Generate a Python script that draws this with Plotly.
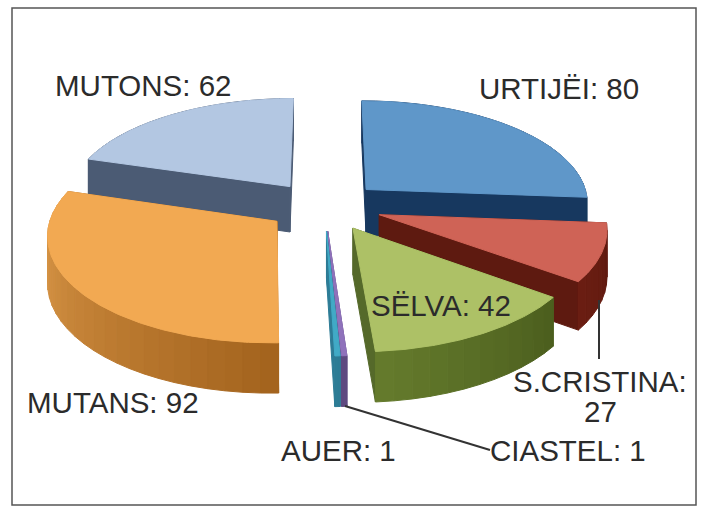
import math
import plotly.graph_objects as go

names = ["URTIJËI", "S.CRISTINA", "SËLVA", "CIASTEL", "AUER", "MUTANS", "MUTONS"]
values = [80, 27, 42, 1, 1, 92, 62]
top_colors = ["#5f97c9", "#cf6356", "#adc166", "#8f72bb", "#41aac6", "#f2a952", "#b3c7e2"]
cut_colors = ["#17385f", "#5e1a10", "#55692a", "#5e4a80", "#2d7c96", "#a8671f", "#4b5b74"]
rim_from = ["#17385f", "#5e1a10", "#4c5f1e", "#5e4a80", "#2d7c96", "#a4641e", "#4b5b74"]
rim_to = ["#17385f", "#6a1d12", "#647a2c", "#5e4a80", "#2d7c96", "#e4a150", "#4b5b74"]
draw_order = [6, 0, 5, 1, 2, 3, 4]

CX, CY, RX, RY, K, EXPL_X, EXPL_Y, RIM_X, H = 324, 206, 229, 103, 0.12, 0.255, 0.24, 0.975, 46


def hex2rgb(c):
    return [int(c[i:i + 2], 16) for i in (1, 3, 5)]


def mix(a, b, t):
    ra, rb = hex2rgb(a), hex2rgb(b)
    return "rgb(%d,%d,%d)" % tuple(round(x + (y - x) * t) for x, y in zip(ra, rb))


def project(X, Y, down=False):
    s = 1 / (1 - K * Y)
    sy = CY + Y * RY * s
    if down:
        sy += H * s ** 0.6
    return CX + X * RX * s ** 0.95, sy


fig = go.Figure()


def poly(pts, color):
    xs = [p[0] for p in pts] + [pts[0][0]]
    ys = [p[1] for p in pts] + [pts[0][1]]
    fig.add_trace(go.Scatter(x=xs, y=ys, mode="lines", fill="toself", fillcolor=color,
                             line=dict(color=color, width=1), hoverinfo="skip", showlegend=False))


total = sum(values)
starts, a = [], 0.0
for v in values:
    starts.append(a)
    a += v / total * 2 * math.pi

for i in draw_order:
    a0 = starts[i]
    a1 = a0 + values[i] / total * 2 * math.pi
    mid = (a0 + a1) / 2
    ox, oy = EXPL_X * math.sin(mid), -EXPL_Y * math.cos(mid)
    n = max(2, int(values[i] * 0.3))
    sub = 6
    rim = [(ox + RIM_X * math.sin(a0 + (a1 - a0) * j / (n * sub)), oy - math.cos(a0 + (a1 - a0) * j / (n * sub)))
           for j in range(n * sub + 1)]
    quads = []
    for r in (rim[0], rim[-1]):
        quads.append((((ox + r[0]) / 2, (oy + r[1]) / 2), [(ox, oy), r], cut_colors[i]))
    for j in range(n):
        t = j / max(1, n - 1)
        seg = rim[j * sub:(j + 1) * sub + 1]
        quads.append((((seg[0][0] + seg[-1][0]) / 2, (seg[0][1] + seg[-1][1]) / 2), seg,
                      mix(rim_from[i], rim_to[i], t)))
    quads.sort(key=lambda q: q[0][1])
    for _, seg, col in quads:
        poly([project(*p) for p in seg] + [project(*p, True) for p in reversed(seg)], col)
    poly([project(ox, oy)] + [project(*r) for r in rim], top_colors[i])

label_text = {n: f"{n}: {v}" for n, v in zip(names, values)}
label_text["S.CRISTINA"] = "S.CRISTINA:"
label_pos = {"URTIJËI": (559, 88), "SËLVA": (441, 305), "CIASTEL": (568, 450), "AUER": (338, 450),
             "MUTANS": (113, 402), "MUTONS": (143, 85), "S.CRISTINA": (600, 381)}
annotations = [dict(x=x, y=y, text=label_text[n], showarrow=False, xref="x", yref="y",
                    font=dict(family="Liberation Sans", size=29.5, color="#2b2b2b"))
               for n, (x, y) in label_pos.items()]
annotations.append(dict(x=600, y=411, text=str(values[names.index("S.CRISTINA")]), showarrow=False,
                        xref="x", yref="y", font=dict(family="Liberation Sans", size=29.5, color="#2b2b2b")))

for xs, ys in [([599, 599], [300, 359]), ([345, 490], [406, 450])]:
    fig.add_trace(go.Scatter(x=xs, y=ys, mode="lines", line=dict(color="#333333", width=2),
                             hoverinfo="skip", showlegend=False))

fig.update_layout(
    width=701, height=508, margin=dict(l=0, r=0, t=0, b=0),
    paper_bgcolor="white", plot_bgcolor="white", showlegend=False,
    xaxis=dict(range=[0, 701], visible=False, fixedrange=True),
    yaxis=dict(range=[508, 0], visible=False, fixedrange=True),
    annotations=annotations,
    shapes=[dict(type="rect", x0=12, y0=8, x1=696, y1=505, xref="x", yref="y",
                 line=dict(color="#555555", width=1.5))],
)
fig.write_html("out.html", config=dict(displayModeBar=False),
               post_script="document.body.style.margin='0';document.documentElement.style.overflow='hidden';")
